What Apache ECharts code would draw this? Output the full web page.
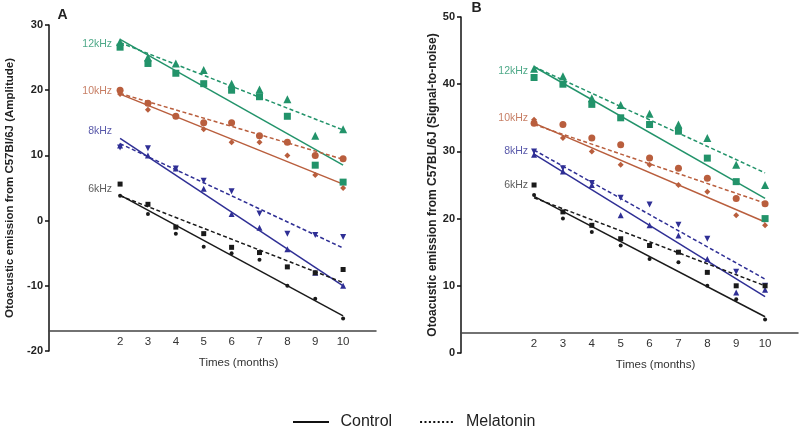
<!DOCTYPE html>
<html>
<head>
<meta charset="utf-8">
<script src="https://cdn.jsdelivr.net/npm/echarts@6/dist/echarts.min.js"></script>
<style>html,body{margin:0;padding:0;background:#fff}#chart{width:800px;height:429px}</style>
</head>
<body>
<div id="chart"></div>
<script>
// ---------------- DATA ----------------
const months = [2, 3, 4, 5, 6, 7, 8, 9, 10];
const freqs = ['12kHz', '10kHz', '8kHz', '6kHz'];
const monthTicks = [2, 3, 4, 5, 6, 7, 8, 9, 10];
const ampTicks = [-20, -10, 0, 10, 20, 30];
const snrTicks = [0, 10, 20, 30, 40, 50];

// Panel A: amplitude
const ampCtrl12 = [26.6, 24.1, 22.6, 21.0, 20.0, 19.0, 16.0, 8.5, 5.9];
const ampMel12  = [27.4, 25.0, 24.1, 23.1, 21.0, 20.1, 18.6, 13.0, 14.0];
const ampCtrl10 = [19.4, 17.0, 16.0, 14.0, 12.0, 12.0, 10.0, 7.0, 5.0];
const ampMel10  = [20.0, 18.0, 16.0, 15.0, 15.0, 13.0, 12.0, 10.0, 9.5];
const ampCtrl8  = [11.5, 10.0, 8.0, 4.9, 1.0, -1.1, -4.4, -8.0, -10.0];
const ampMel8   = [11.2, 11.1, 8.0, 6.1, 4.5, 1.1, -2.0, -2.2, -2.5];
const ampCtrl6  = [3.8, 1.0, -2.0, -4.0, -5.0, -6.0, -10.0, -12.0, -15.0];
const ampMel6   = [5.6, 2.5, -1.0, -2.0, -4.1, -4.9, -7.1, -8.0, -7.5];
// fitted trend lines (value at month 2, value at month 10), order 12,10,8,6 kHz
const ampFitCtrl = [[27.8, 8.5], [19.4, 5.6], [12.6, -10.0], [3.9, -14.6]];
const ampFitMel  = [[27.3, 13.9], [19.5, 9.4], [11.8, -4.2], [3.8, -9.5]];

// Panel B: signal-to-noise
const snrCtrl12 = [41.0, 40.0, 37.0, 35.0, 34.0, 33.0, 29.0, 25.5, 20.0];
const snrMel12  = [42.3, 41.2, 37.9, 36.9, 35.6, 34.0, 32.0, 28.0, 25.0];
const snrCtrl10 = [34.7, 32.0, 30.0, 28.0, 28.0, 25.0, 24.0, 20.5, 19.0];
const snrMel10  = [34.2, 34.0, 32.0, 31.0, 29.0, 27.5, 26.0, 23.0, 22.2];
const snrCtrl8  = [29.5, 27.0, 25.0, 20.5, 19.0, 17.5, 14.0, 9.0, 9.4];
const snrMel8   = [30.0, 27.5, 25.3, 23.1, 22.1, 19.1, 17.0, 12.1, 10.0];
const snrCtrl6  = [23.5, 20.0, 18.0, 16.0, 14.0, 13.5, 10.0, 8.0, 5.0];
const snrMel6   = [25.0, 21.0, 19.0, 17.0, 16.0, 15.0, 12.0, 10.0, 10.0];
const snrFitCtrl = [[42.6, 23.0], [34.2, 19.5], [29.6, 8.4], [23.3, 5.4]];
const snrFitMel  = [[42.6, 26.8], [34.0, 22.3], [30.2, 11.0], [23.1, 10.0]];

// ---------------- STYLE / LAYOUT ----------------
const FONT = '"Liberation Sans", Arial, Helvetica, sans-serif';
const colors = ['#22936a', '#b95e3d', '#2f2f95', '#1a1a1a'];
const labelColors = ['#22936a', '#b95e3d', '#2f2f95', '#333333'];
const ctrlSym = [
  {symbol: 'rect', size: 7, rotate: 0},
  {symbol: 'diamond', size: 6, rotate: 0},
  {symbol: 'triangle', size: 6, rotate: 0},
  {symbol: 'circle', size: 4, rotate: 0}
];
const melSym = [
  {symbol: 'triangle', size: 8, rotate: 0},
  {symbol: 'circle', size: 7, rotate: 0},
  {symbol: 'triangle', size: 6, rotate: 180},
  {symbol: 'rect', size: 5, rotate: 0}
];

const panels = [
  {ctrl: [ampCtrl12, ampCtrl10, ampCtrl8, ampCtrl6], mel: [ampMel12, ampMel10, ampMel8, ampMel6],
   fitC: ampFitCtrl, fitM: ampFitMel, labelY: [27.1, 19.9, 13.8, 4.9], labelDist: 8},
  {ctrl: [snrCtrl12, snrCtrl10, snrCtrl8, snrCtrl6], mel: [snrMel12, snrMel10, snrMel8, snrMel6],
   fitC: snrFitCtrl, fitM: snrFitMel, labelY: [42.0, 35.0, 30.0, 25.0], labelDist: 6}
];

const series = [];
panels.forEach((p, pi) => {
  freqs.forEach((f, fi) => {
    const c = colors[fi];
    series.push({
      type: 'line', xAxisIndex: pi, yAxisIndex: pi, symbol: 'none', silent: true,
      data: [[months[0], p.fitC[fi][0]], [months[months.length - 1], p.fitC[fi][1]]],
      lineStyle: {color: c, width: 1.5, type: 'solid'}, z: 2
    });
    series.push({
      type: 'line', xAxisIndex: pi, yAxisIndex: pi, symbol: 'none', silent: true,
      data: [[months[0], p.fitM[fi][0]], [months[months.length - 1], p.fitM[fi][1]]],
      lineStyle: {color: c, width: 1.5, type: [4, 2.5]}, z: 2
    });
    series.push({
      type: 'scatter', xAxisIndex: pi, yAxisIndex: pi,
      symbol: ctrlSym[fi].symbol, symbolSize: ctrlSym[fi].size, symbolRotate: ctrlSym[fi].rotate,
      itemStyle: {color: c, opacity: 1},
      data: months.map((m, i) => [m, p.ctrl[fi][i]]), z: 3
    });
    series.push({
      type: 'scatter', xAxisIndex: pi, yAxisIndex: pi,
      symbol: melSym[fi].symbol, symbolSize: melSym[fi].size, symbolRotate: melSym[fi].rotate,
      itemStyle: {color: c, opacity: 1},
      data: months.map((m, i) => [m, p.mel[fi][i]]), z: 3
    });
  });
  series.push({
    type: 'scatter', xAxisIndex: pi, yAxisIndex: pi, symbolSize: 0, silent: true,
    data: freqs.map((f, fi) => ({
      value: [months[0], p.labelY[fi]],
      label: {show: true, position: 'left', distance: p.labelDist, formatter: f,
              color: labelColors[fi], fontSize: 10.5, fontFamily: FONT}
    }))
  });
});

// legend-only series
series.push({name: 'Control', type: 'line', data: [], symbol: 'none', itemStyle: {color: '#111'}});
series.push({name: 'Melatonin', type: 'line', data: [], symbol: 'none', itemStyle: {color: '#111'}});

// legend icons: solid bar and dotted bar
const solidIcon = 'path://M0,0H36V2H0Z';
let dotPath = '';
for (let i = 0; i < 8; i++) { const x = i * 4.4; dotPath += 'M' + x + ',0h2v2h-' + 2 + 'z'; }
const dottedIcon = 'path://' + dotPath;

function xAxisCfg(gi, min, max) {
  return {
    type: 'value', gridIndex: gi, min: min, max: max, position: 'bottom', offset: -20,
    axisLine: {show: true, onZero: false, lineStyle: {color: '#444', width: 1.5}},
    axisTick: {show: false},
    splitLine: {show: false},
    axisLabel: {customValues: monthTicks, margin: 5, color: '#333', fontSize: 11.5, fontFamily: FONT}
  };
}
function yAxisCfg(gi, ticks, name, gap, nameSize) {
  return {
    type: 'value', gridIndex: gi, min: ticks[0], max: ticks[ticks.length - 1], interval: ticks[1] - ticks[0],
    name: name, nameLocation: 'middle', nameGap: gap,
    nameTextStyle: {fontSize: nameSize, fontWeight: 'bold', color: '#222', fontFamily: FONT},
    axisLine: {show: true, onZero: false, lineStyle: {color: '#111', width: 1.5}},
    axisTick: {show: true, length: 4, lineStyle: {color: '#111', width: 1.5}},
    splitLine: {show: false},
    axisLabel: {margin: 6, color: '#222', fontSize: 11, fontWeight: 'bold', fontFamily: FONT}
  };
}

const option = {
  animation: false,
  backgroundColor: '#fff',
  textStyle: {fontFamily: FONT},
  grid: [
    {left: 49, top: 25, width: 327, height: 326, outerBoundsMode: 'none'},
    {left: 461, top: 17, width: 337, height: 336, outerBoundsMode: 'none'}
  ],
  xAxis: [xAxisCfg(0, -0.55, 11.18), xAxisCfg(1, -0.53, 11.14)],
  yAxis: [
    yAxisCfg(0, ampTicks, 'Otoacustic emission from C57Bl/6J (Amplitude)', 33, 11.5),
    yAxisCfg(1, snrTicks, 'Otoacustic emission from C57BL/6J (Signal-to-noise)', 22, 12)
  ],
  legend: {
    data: [{name: 'Control', icon: solidIcon}, {name: 'Melatonin', icon: dottedIcon}],
    left: 288, top: 409,
    itemWidth: 37, itemHeight: 2, itemGap: 28,
    itemStyle: {color: '#111'},
    textStyle: {fontSize: 16, color: '#222', fontFamily: FONT, padding: [0, 0, 0, 6]}
  },
  graphic: [
    {type: 'text', x: 238.5, y: 363, style: {text: 'Times (months)', align: 'center', verticalAlign: 'middle', font: '11.5px ' + FONT, fill: '#333'}},
    {type: 'text', x: 655.5, y: 365, style: {text: 'Times (months)', align: 'center', verticalAlign: 'middle', font: '11.5px ' + FONT, fill: '#333'}},
    {type: 'text', x: 62.5, y: 15, style: {text: 'A', align: 'center', verticalAlign: 'middle', font: 'bold 14px ' + FONT, fill: '#222'}},
    {type: 'text', x: 476.5, y: 8.5, style: {text: 'B', align: 'center', verticalAlign: 'middle', font: 'bold 14px ' + FONT, fill: '#222'}}
  ],
  series: series
};

const chart = echarts.init(document.getElementById('chart'), null, {renderer: 'canvas'});
chart.setOption(option);
</script>
</body>
</html>
